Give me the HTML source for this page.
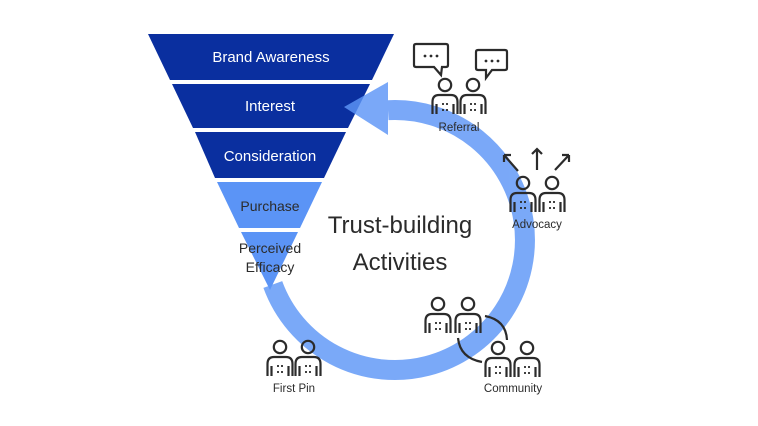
<!DOCTYPE html>
<html><head><meta charset="utf-8"><style>
html,body{margin:0;padding:0;background:#fff;}
svg{display:block;font-family:"Liberation Sans",sans-serif;}
</style></head><body>
<svg width="758" height="426" viewBox="0 0 758 426" xmlns="http://www.w3.org/2000/svg">
<defs>
<g id="p" fill="none" stroke="#2b2b2b" stroke-width="2.2">
<circle cx="0" cy="0" r="6.2"/>
<path d="M-12.5,29 V17 Q-12.5,10 -6,10 H6 Q12.5,10 12.5,17 V29"/>
<path d="M-8.5,19 V29 M8.5,19 V29"/>
<path d="M-2,18 V20 M-2,24 V26 M2,18 V20 M2,24 V26" stroke-width="1.8"/>
</g>
</defs>
<!-- funnel -->
<polygon points="148,34 394,34 372,80 170,80" fill="#0a2f9f"/>
<polygon points="172,84 370,84 348,128 193,128" fill="#0a2f9f"/>
<polygon points="195,132 346,132 324,178 215,178" fill="#0a2f9f"/>
<polygon points="217,182 322,182 300,228 239,228" fill="#5b94f6"/>
<polygon points="241,232 298,232 270,290" fill="#5b94f6"/>
<g fill="#fff" font-size="15" text-anchor="middle">
<text x="271" y="62">Brand Awareness</text>
<text x="270" y="111">Interest</text>
<text x="270" y="161">Consideration</text>
</g>
<g fill="#2b2b2b" font-size="14" text-anchor="middle">
<text x="270" y="211">Purchase</text>
<text x="270" y="253">Perceived</text>
<text x="270" y="272">Efficacy</text>
</g>
<!-- arc -->
<g opacity="0.82">
<path d="M272.8,284.5 A130,130 0 1 0 388,110.2" fill="none" stroke="#5d96f7" stroke-width="20"/>
<polygon points="388,82 388,135 344,107" fill="#5d96f7"/>
</g>
<g fill="#2b2b2b" font-size="24" text-anchor="middle">
<text x="400" y="233">Trust-building</text>
<text x="400" y="270">Activities</text>
</g>
<!-- Referral -->
<g fill="none" stroke="#2b2b2b" stroke-width="2.2">
<path d="M416,44 H446 Q448,44 448,46 V65 Q448,67 446,67 H442 L441,75 L434,67 H416 Q414,67 414,65 V46 Q414,44 416,44Z"/>
<path d="M478,50 H505 Q507,50 507,52 V68 Q507,70 505,70 H492 L486,78 L486,70 H478 Q476,70 476,68 V52 Q476,50 478,50Z"/>
</g>
<g fill="#2b2b2b"><circle cx="425" cy="56" r="1.4"/><circle cx="431" cy="56" r="1.4"/><circle cx="437" cy="56" r="1.4"/>
<circle cx="486" cy="61" r="1.4"/><circle cx="492" cy="61" r="1.4"/><circle cx="498" cy="61" r="1.4"/></g>
<use href="#p" x="445" y="85"/><use href="#p" x="473" y="85"/>
<!-- Advocacy -->
<use href="#p" x="523" y="183"/><use href="#p" x="552" y="183"/>
<g fill="none" stroke="#2b2b2b" stroke-width="2.2">
<path d="M518,171 L504,155 M504,155 V162 M504,155 H511"/>
<path d="M537,170 V149 M532,154 L537,149 L542,154"/>
<path d="M555,170 L569,155 M569,155 H562 M569,155 V162"/>
<path d="M485,316 Q506,320 507,340"/>
<path d="M458,338 Q460,358 482,362"/>
</g>
<!-- Community -->
<use href="#p" x="438" y="304"/><use href="#p" x="468" y="304"/>
<use href="#p" x="498" y="348"/><use href="#p" x="527" y="348"/>
<!-- First pin -->
<use href="#p" x="280" y="347"/><use href="#p" x="308" y="347"/>
<g fill="#2b2b2b" font-size="11.5" text-anchor="middle">
<text x="459" y="131">Referral</text>
<text x="537" y="228">Advocacy</text>
<text x="513" y="392">Community</text>
<text x="294" y="392">First Pin</text>
</g>
</svg>
</body></html>
